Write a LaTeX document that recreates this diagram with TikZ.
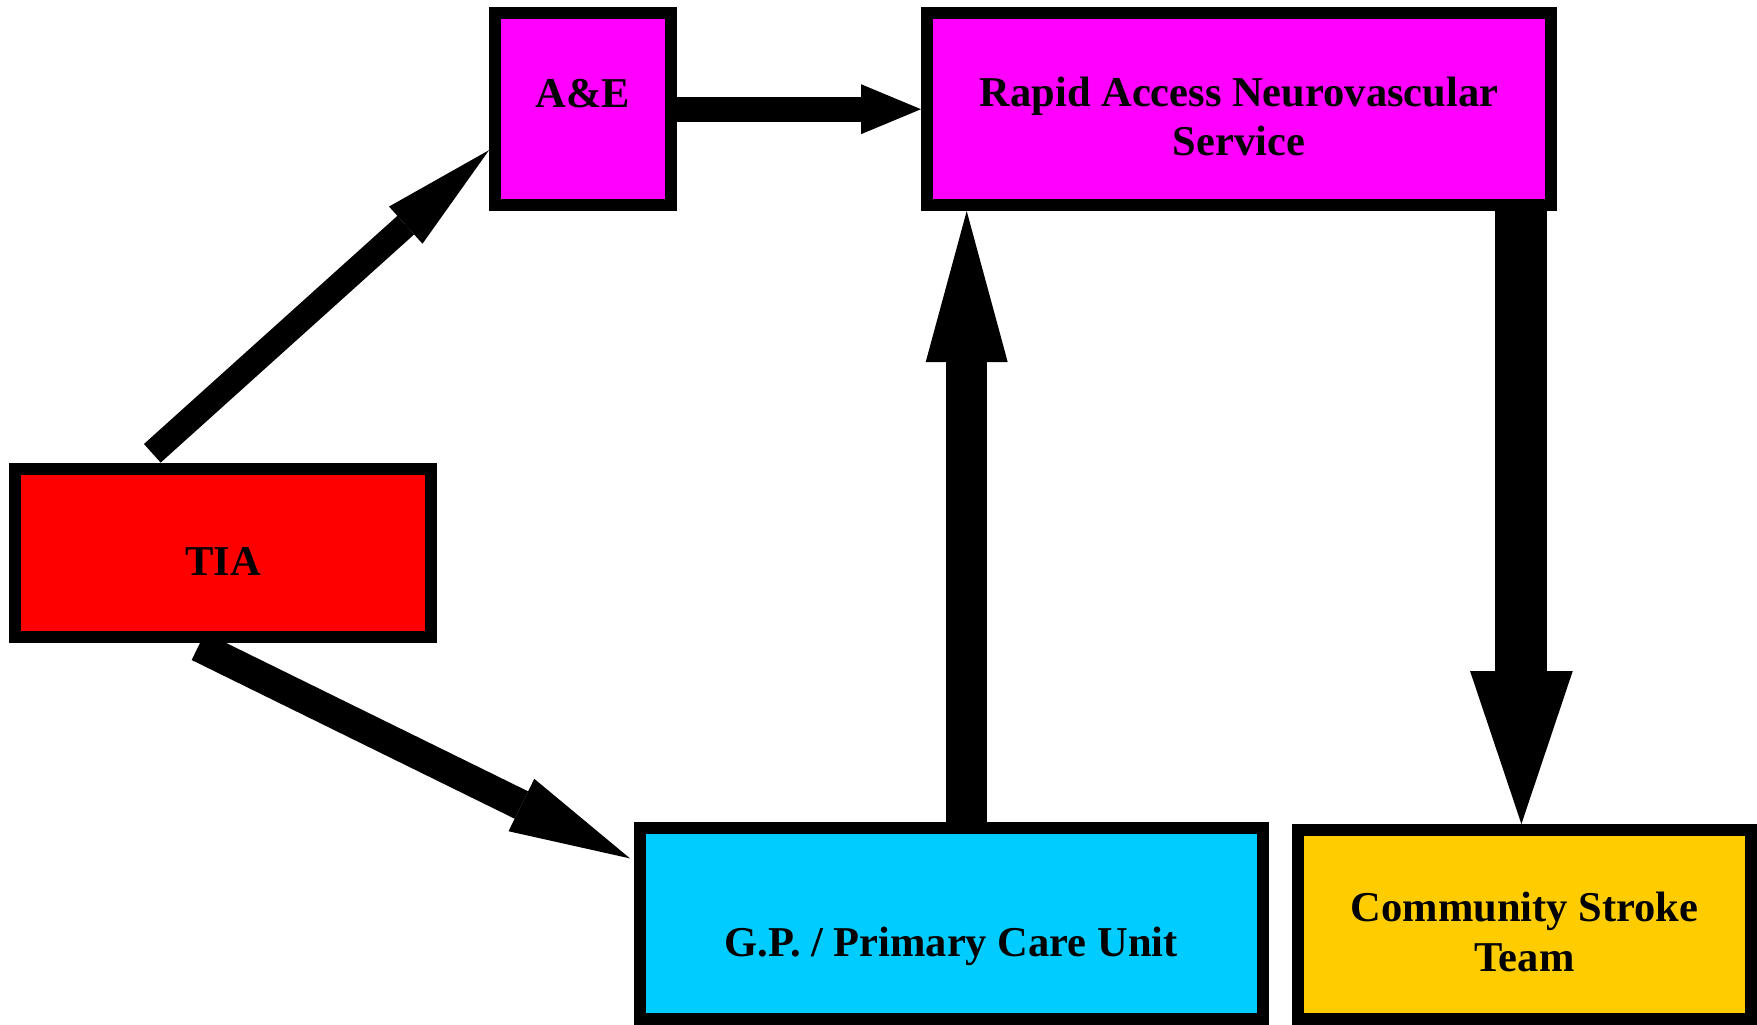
\documentclass[tikz,border=0pt]{standalone}
\usepackage{fontspec}
\setmainfont{Liberation Serif}
\usetikzlibrary{arrows.meta,backgrounds}
\definecolor{tiared}{HTML}{FF0000}
\definecolor{svcmag}{HTML}{FF00FF}
\definecolor{gpblue}{HTML}{00CCFF}
\definecolor{commyel}{HTML}{FFCC00}
\begin{document}
\begin{tikzpicture}[x=1pt,y=-1pt,
  box/.style={draw=black, line width=12pt, rectangle, inner sep=0pt},
  txt/.style={font=\fontsize{42.5}{49.5}\selectfont\bfseries, align=center, inner sep=0pt, anchor=base},
  conn/.style={draw=black, fill=black}]
\useasboundingbox (0,0) rectangle (1757,1025);

\node[box, fill=tiared, minimum width=416pt, minimum height=168pt] (tia) at (223,553.3) {};
\node[box, fill=svcmag, minimum width=176pt, minimum height=191.7pt] (ae) at (583,109.2) {};
\node[box, fill=svcmag, minimum width=624pt, minimum height=191.7pt] (rans) at (1239,109.2) {};
\node[box, fill=gpblue, minimum width=623pt, minimum height=191.3pt] (gp) at (951,923.4) {};
\node[box, fill=commyel, minimum width=453.3pt, minimum height=189pt] (comm) at (1524.4,924.5) {};

\node[txt] (tiatext) at ([yshift=-21.7pt]tia.center) {TIA};
\node[txt] (aetext) at ([yshift=2pt]ae.center) {A\&E};
\node[txt] (ranstext) at ([yshift=-46.5pt]rans.center) {Rapid Access Neurovascular\\Service};
\node[txt] (gptext) at ([yshift=-33.3pt]gp.center) {G.P. / Primary Care Unit};
\node[txt] (commtext) at ([yshift=-46.7pt]comm.center) {Community Stroke\\Team};

\begin{scope}[on background layer]
\draw[conn, line width=25pt, -{Triangle[length=112pt,width=50pt,line width=0pt]}]
  ([xshift=-70.7pt,yshift=10pt]tia.north) -- ([yshift=-41pt]ae.west);
\draw[conn, line width=25.3pt, -{Triangle[length=60pt,width=50pt,line width=0pt]}]
  (ae.east) -- (rans.west);
\draw[conn, line width=41.5pt, -{Triangle[length=151pt,width=82pt,line width=0pt]}]
  ([xshift=15.7pt]gp.north) -- ([xshift=-272.3pt]rans.south);
\draw[conn, line width=52pt, -{Triangle[length=153pt,width=102.7pt,line width=0pt]}]
  ([xshift=282.4pt]rans.south) -- ([xshift=-3pt]comm.north);
\draw[conn, line width=30.5pt, -{Triangle[length=121pt,width=58.4pt,line width=0pt]}]
  ([xshift=-24.6pt,yshift=-3pt]tia.south) -- ([xshift=-3.5pt,yshift=65pt]gp.west);
\end{scope}
\end{tikzpicture}
\end{document}
